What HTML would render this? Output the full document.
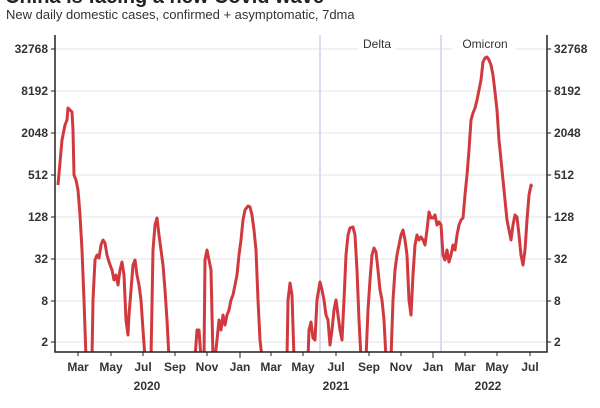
<!DOCTYPE html>
<html><head><style>
body{margin:0;background:#fff;width:600px;height:403px;overflow:hidden;font-family:"Liberation Sans",sans-serif}
</style></head><body>
<svg width="600" height="403" xmlns="http://www.w3.org/2000/svg" font-family="Liberation Sans, sans-serif">
<text x="5" y="3" font-size="20" font-weight="bold" fill="#222">China is facing a new Covid wave</text>
<text x="6" y="19" font-size="13" fill="#333">New daily domestic cases, confirmed + asymptomatic, 7dma</text>
<g stroke="#e3e3e8" stroke-width="1">
<line x1="50" x2="552" y1="49" y2="49"/><line x1="50" x2="552" y1="91" y2="91"/>
<line x1="50" x2="552" y1="133" y2="133"/><line x1="50" x2="552" y1="175" y2="175"/>
<line x1="50" x2="552" y1="217" y2="217"/><line x1="50" x2="552" y1="259" y2="259"/>
<line x1="50" x2="552" y1="301" y2="301"/><line x1="50" x2="552" y1="342" y2="342"/>
</g>
<line x1="320" x2="320" y1="35" y2="352" stroke="#dcdcf0" stroke-width="2"/>
<line x1="441" x2="441" y1="35" y2="352" stroke="#dcdcf0" stroke-width="2"/>
<rect x="358" y="36" width="38" height="16" fill="#fff"/><rect x="452" y="36" width="64" height="16" fill="#fff"/>
<text x="377" y="48" font-size="12" fill="#333" text-anchor="middle">Delta</text>
<text x="485" y="48" font-size="12" fill="#333" text-anchor="middle">Omicron</text>
<g font-size="12" font-weight="bold" fill="#333">
<g text-anchor="end"><text x="48" y="53">32768</text><text x="48" y="95">8192</text><text x="48" y="137">2048</text><text x="48" y="179">512</text><text x="48" y="221">128</text><text x="48" y="263">32</text><text x="48" y="305">8</text><text x="48" y="346">2</text></g>
<g><text x="554" y="53">32768</text><text x="554" y="95">8192</text><text x="554" y="137">2048</text><text x="554" y="179">512</text><text x="554" y="221">128</text><text x="554" y="263">32</text><text x="554" y="305">8</text><text x="554" y="346">2</text></g>
<g text-anchor="middle"><text x="78" y="371">Mar</text><text x="111" y="371">May</text><text x="143" y="371">Jul</text><text x="175" y="371">Sep</text><text x="207" y="371">Nov</text><text x="240" y="371">Jan</text><text x="271" y="371">Mar</text><text x="303" y="371">May</text><text x="336" y="371">Jul</text><text x="369" y="371">Sep</text><text x="401" y="371">Nov</text><text x="433" y="371">Jan</text><text x="465" y="371">Mar</text><text x="497" y="371">May</text><text x="530" y="371">Jul</text>
<text x="147" y="390">2020</text><text x="336" y="390">2021</text><text x="488" y="390">2022</text></g>
</g>
<clipPath id="c"><rect x="55" y="30" width="492" height="322"/></clipPath>
<g clip-path="url(#c)" fill="none" stroke="#d03a3e" stroke-width="3" stroke-linejoin="round">
<polyline points="58,185 62,140 65,125 67,120 68,108 70,110 72,112 73,130 74,175 76,180 78,190 80,215 82,250 84,300 86,358"/>
<polyline points="92,358 93,300 95,260 97,255 99,258 101,245 103,240 105,243 107,255 109,262 112,270 114,280 116,275 118,285 120,270 122,262 124,275 126,320 128,335 129,315 131,290 133,265 135,260 137,275 139,285 141,300 143,330 145,358"/>
<polyline points="151,358 153,250 155,225 157,218 159,235 161,250 163,265 165,290 167,320 169,358"/>
<polyline points="195,358 197,330 199,330 201,358"/>
<polyline points="204,358 205,260 207,250 209,260 211,270 213,358"/>
<polyline points="215,358 217,340 219,320 221,330 223,315 225,325 227,315 229,310 231,300 233,295 235,285 237,275 239,255 241,240 243,220 245,210 248,206 250,207 252,215 254,230 256,250 258,300 260,340 262,358"/>
<polyline points="287,358 288,300 290,283 292,295 294,358"/>
<polyline points="308,358 309,330 311,322 313,338 315,340 317,300 320,282 322,290 324,300 326,315 328,320 330,345 332,330 334,310 336,300 338,315 340,330 342,340 344,300 346,255 348,235 350,228 353,227 355,235 357,270 359,320 361,358"/>
<polyline points="366,358 368,310 370,280 372,255 374,248 376,252 378,270 380,290 382,300 384,320 386,358"/>
<polyline points="391,358 393,300 395,270 397,255 399,245 401,235 403,230 405,240 407,255 409,300 411,315 413,275 415,245 417,235 419,240 421,237 423,240 425,245 427,230 429,212 431,218 433,218 435,215 437,225 439,222 441,225 443,255 445,260 447,250 449,262 451,255 453,245 455,250 457,235 459,225 461,220 463,218 465,195 467,175 469,150 471,120 473,113 475,108 477,100 479,90 481,80 483,62 485,58 487,57 489,60 491,65 493,75 495,92 497,110 499,140 501,160 503,180 505,200 507,220 509,230 511,240 513,225 515,215 517,217 519,235 521,255 523,265 525,250 527,220 529,195 531,185 532,187"/>
</g>
<g stroke="#222" stroke-width="1.5" fill="none">
<polyline points="55,35 55,352 547,352 547,35"/>
</g>
<g stroke="#222" stroke-width="1">
<line x1="51" x2="55" y1="49" y2="49"/><line x1="51" x2="55" y1="91" y2="91"/><line x1="51" x2="55" y1="133" y2="133"/><line x1="51" x2="55" y1="175" y2="175"/><line x1="51" x2="55" y1="217" y2="217"/><line x1="51" x2="55" y1="259" y2="259"/><line x1="51" x2="55" y1="301" y2="301"/><line x1="51" x2="55" y1="342" y2="342"/>
<line x1="547" x2="551" y1="49" y2="49"/><line x1="547" x2="551" y1="91" y2="91"/><line x1="547" x2="551" y1="133" y2="133"/><line x1="547" x2="551" y1="175" y2="175"/><line x1="547" x2="551" y1="217" y2="217"/><line x1="547" x2="551" y1="259" y2="259"/><line x1="547" x2="551" y1="301" y2="301"/><line x1="547" x2="551" y1="342" y2="342"/>
<line x1="78" x2="78" y1="352" y2="356"/><line x1="111" x2="111" y1="352" y2="356"/><line x1="143" x2="143" y1="352" y2="356"/><line x1="175" x2="175" y1="352" y2="356"/><line x1="207" x2="207" y1="352" y2="356"/><line x1="240" x2="240" y1="352" y2="358"/><line x1="271" x2="271" y1="352" y2="356"/><line x1="303" x2="303" y1="352" y2="356"/><line x1="336" x2="336" y1="352" y2="356"/><line x1="369" x2="369" y1="352" y2="356"/><line x1="401" x2="401" y1="352" y2="356"/><line x1="433" x2="433" y1="352" y2="358"/><line x1="465" x2="465" y1="352" y2="356"/><line x1="497" x2="497" y1="352" y2="356"/><line x1="530" x2="530" y1="352" y2="356"/>
</g>
</svg>
</body></html>
